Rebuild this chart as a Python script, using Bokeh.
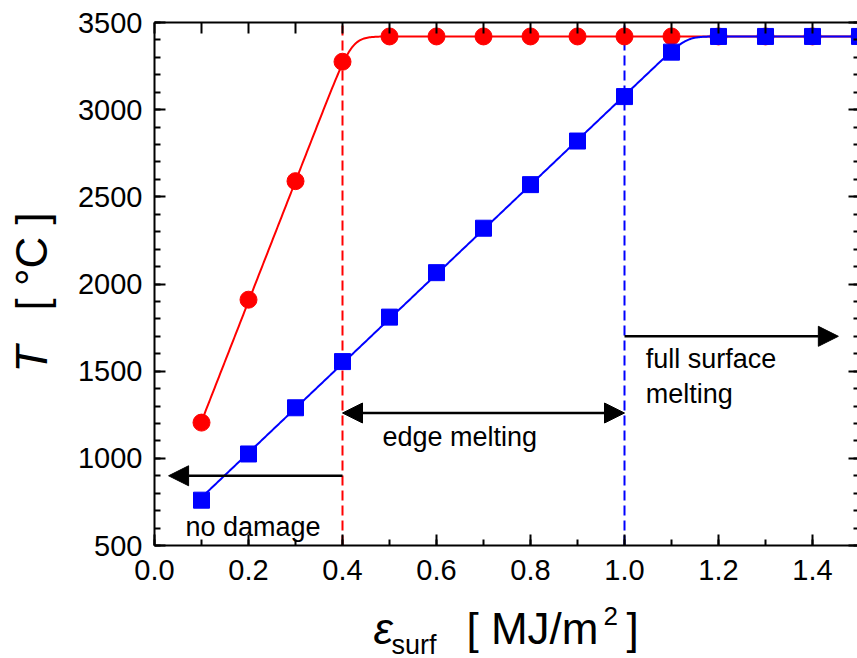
import numpy as np
from bokeh.plotting import figure
from bokeh.models import (Range1d, LinearAxis, SingleIntervalTicker, PrintfTickFormatter,
                          CustomJSTickFormatter, Arrow, NormalHead, Label)
from bokeh.embed import file_html
from bokeh.resources import INLINE

# Surface energy density [MJ/m^2] and peak surface temperature [degC]
energy_red = [0.1, 0.2, 0.3, 0.4, 0.5, 0.6, 0.7, 0.8, 0.9, 1.0, 1.1, 1.2, 1.3, 1.4, 1.5]
temp_red = [1205, 1910, 2590, 3275, 3420, 3420, 3420, 3420, 3420, 3420, 3420, 3420, 3420, 3420, 3420]

energy_blue = [0.1, 0.2, 0.3, 0.4, 0.5, 0.6, 0.7, 0.8, 0.9, 1.0, 1.1, 1.2, 1.3, 1.4, 1.5]
temp_blue = [760, 1025, 1290, 1555, 1810, 2065, 2320, 2570, 2820, 3075, 3330, 3420, 3420, 3420, 3420]

melt_temp = 3420          # plateau (melting temperature)
no_damage_limit = 0.4     # onset of edge melting
full_melt_limit = 1.0     # onset of full surface melting

# regime arrows: (row temperature, start, end)
no_damage_arrow = (900, 0.4, 0.03)
edge_arrow = (1260, 0.4, 1.0)
full_arrow = (1700, 1.0, 1.455)

# axis limits
x_lim = (0.0, 1.5)
y_lim = (500, 3500)

FONT = "Liberation Sans"
W, H = 857, 658
# pixel placement of the axis box inside the canvas
BOX_LEFT, BOX_TOP, BOX_BOTTOM = 154, 22, 545
PX_X = 470.0                                    # pixels per MJ/m^2
PX_Y = (BOX_BOTTOM - BOX_TOP) / (y_lim[1] - y_lim[0])

x_start = x_lim[0] - BOX_LEFT / PX_X
y_start = y_lim[0] - (H - BOX_BOTTOM) / PX_Y


def melt_curve(e, t, grid, kx=0.013):
    """Linear heating trend fitted to the points below melting, smoothly capped at melt_temp."""
    e = np.asarray(e, dtype=float)
    t = np.asarray(t, dtype=float)
    rising = t < melt_temp - 1
    slope, icpt = np.polyfit(e[rising], t[rising], 1)
    k = slope * kx
    lin = icpt + slope * grid
    return -k * np.logaddexp(-lin / k, -melt_temp / k)


p = figure(width=W, height=H,
           x_range=Range1d(x_start, x_start + W / PX_X),
           y_range=Range1d(y_start, y_start + H / PX_Y),
           x_axis_location=None, y_axis_location=None,
           min_border=0, min_border_left=0, min_border_right=0,
           min_border_top=0, min_border_bottom=0,
           output_backend="svg", toolbar_location=None)
p.outline_line_color = None
p.grid.visible = False
p.background_fill_color = "white"
p.border_fill_color = "white"


def make_axis(loc, bounds, ticker, formatter=None, labels=True):
    ax = LinearAxis(fixed_location=loc, bounds=bounds, ticker=ticker)
    ax.axis_line_color = "black"
    ax.axis_line_width = 2
    ax.major_tick_line_color = "black"
    ax.major_tick_line_width = 2
    ax.minor_tick_line_color = "black"
    ax.minor_tick_line_width = 2
    ax.major_tick_in = 11
    ax.major_tick_out = 0
    ax.minor_tick_in = 6
    ax.minor_tick_out = 0
    ax.major_label_text_font = FONT
    ax.major_label_text_color = "black"
    ax.major_label_text_font_size = "29px"
    if labels:
        ax.formatter = formatter
    else:
        ax.formatter = CustomJSTickFormatter(code="return ''")
    return ax


bottom = make_axis(y_lim[0], x_lim, SingleIntervalTicker(interval=0.2, num_minor_ticks=2),
                   PrintfTickFormatter(format="%.1f"))
bottom.major_label_standoff = 14
p.add_layout(bottom, "below")

left = make_axis(x_lim[0], y_lim, SingleIntervalTicker(interval=500, num_minor_ticks=5),
                 PrintfTickFormatter(format="%d"))
left.major_label_standoff = 12
p.add_layout(left, "left")

top = make_axis(y_lim[1], x_lim, SingleIntervalTicker(interval=0.1, num_minor_ticks=0), labels=False)
p.add_layout(top, "above")

right = make_axis(x_lim[1], y_lim, SingleIntervalTicker(interval=500, num_minor_ticks=5), labels=False)
p.add_layout(right, "right")

# regime boundaries
p.segment(x0=[no_damage_limit], y0=[y_lim[0]], x1=[no_damage_limit], y1=[y_lim[1]],
          line_color="#FF0000", line_dash="10 5", line_width=2)
p.segment(x0=[full_melt_limit], y0=[y_lim[0]], x1=[full_melt_limit], y1=[y_lim[1]],
          line_color="#0000FF", line_dash="10 5", line_width=2)

# fitted curves and measured points
grid = np.linspace(min(energy_red + energy_blue), max(energy_red + energy_blue), 600)
p.line(grid, melt_curve(energy_red, temp_red, grid), line_color="#FF0000", line_width=2)
p.scatter(x=energy_red, y=temp_red, marker="circle", size=17,
          fill_color="#FF0000", line_color="#FF0000")
p.line(grid, melt_curve(energy_blue, temp_blue, grid), line_color="#0000FF", line_width=2)
p.scatter(x=energy_blue, y=temp_blue, marker="square", size=16,
          fill_color="#0000FF", line_color="#0000FF")


# regime arrows
def head():
    return NormalHead(size=20, fill_color="black", line_color="black", line_width=1)


t, a, b = no_damage_arrow
p.add_layout(Arrow(end=head(), x_start=a, y_start=t, x_end=b, y_end=t,
                   line_color="black", line_width=2.5))
t, a, b = edge_arrow
p.add_layout(Arrow(start=head(), end=head(), x_start=a, y_start=t, x_end=b, y_end=t,
                   line_color="black", line_width=2.5))
t, a, b = full_arrow
p.add_layout(Arrow(end=head(), x_start=a, y_start=t, x_end=b, y_end=t,
                   line_color="black", line_width=2.5))


# regime captions
def caption(x, y, txt):
    p.add_layout(Label(x=x, y=y, text=txt, text_font=FONT, text_font_size="27px",
                       text_color="black", text_align="left", text_baseline="alphabetic"))


caption(0.066, 605, "no damage")
caption(0.485, 1120, "edge melting")
caption(1.045, 1570, "full surface")
caption(1.045, 1370, "melting")


# axis titles (pixel offsets from the canvas' lower-left corner)
def title(x, y, txt, size, style="normal", angle=0.0):
    p.add_layout(Label(x=x, y=y, x_units="screen", y_units="screen", text=txt,
                       text_font=FONT, text_font_size=size, text_font_style=style,
                       text_color="black", text_align="left", text_baseline="alphabetic",
                       angle=angle))


title(31, H - 372, "T", "44px", "italic", np.pi / 2)
title(31, H - 310, "[ °C ]", "44px", "normal", np.pi / 2)

title(373, H - 628, "ε", "44px", "italic")
title(391, H - 644, "surf", "27px")
title(466, H - 628, "[ MJ/m", "44px")
title(603, H - 615, "2", "26px")
title(626, H - 628, "]", "44px")

open("out.html", "w").write(file_html(p, INLINE))
